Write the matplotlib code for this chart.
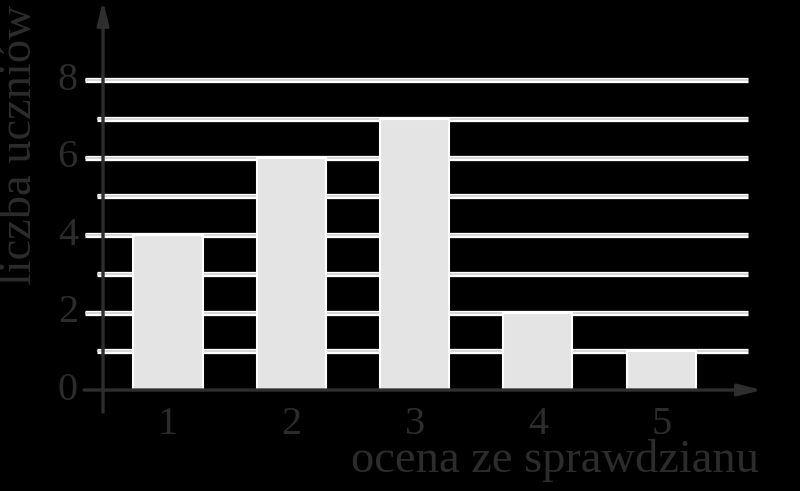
import matplotlib.pyplot as plt

# data
oceny = ["1", "2", "3", "4", "5"]
liczba = [4, 6, 7, 2, 1]
y_ticks = [0, 2, 4, 6, 8]
grid_levels = [1, 2, 3, 4, 5, 6, 7, 8]

plt.rcParams['font.family'] = ['Liberation Serif', 'DejaVu Serif']

fig = plt.figure(figsize=(8, 4.91), dpi=100, facecolor='black')
ax = fig.add_axes([0, 0, 1, 1])
ax.set_facecolor('black')
ax.set_axis_off()

# pixel -> data: category 1 at px 168, step 123.3 px; y=0 at px 390, 38.75 px per unit
ax.set_xlim(-0.3625, 6.1257)
ax.set_ylim(-2.606, 10.065)

txt_col = '#2c2c2c'
axis_col = '#2e2e2e'

x = list(range(1, len(oceny) + 1))

# grid lines (double white line with light gray centre)
for g in grid_levels:
    x0 = 0.327 if g % 2 == 0 else 0.424
    ax.plot([x0, 5.704], [g, g], color='white', lw=3.8, solid_capstyle='butt', zorder=1)
    ax.plot([x0, 5.704], [g, g], color='#cfcfcf', lw=1.2, solid_capstyle='butt', zorder=1.5)

# bars
ax.bar(x, liczba, width=0.56, color='#e4e4e4', edgecolor='white', linewidth=1.5, zorder=2)

# axes with arrows
ax.annotate('', xy=(0.473, 10.04), xytext=(0.473, -0.568),
            arrowprops=dict(arrowstyle='-|>,head_length=1.4,head_width=0.35', color=axis_col, lw=2.4,
                            shrinkA=0, shrinkB=0), zorder=3)
ax.annotate('', xy=(5.817, 0), xytext=(0.319, 0),
            arrowprops=dict(arrowstyle='-|>,head_length=1.4,head_width=0.35', color=axis_col, lw=2.4,
                            shrinkA=0, shrinkB=0), zorder=3)

# tick labels
for xi, lab in zip(x, oceny):
    ax.text(xi, -0.9, lab, ha='center', va='center', fontsize=29, color=txt_col)
for t in y_ticks:
    ax.text(0.27, t, str(t), ha='right', va='center', fontsize=29, color=txt_col)

# axis titles
ax.text(4.139, -2.116, 'ocena ze sprawdzianu', ha='center', va='baseline', fontsize=33.5, color=txt_col)
ax.text(-0.2, 6.32, 'liczba uczniów', ha='center', va='center', rotation=90, fontsize=33.5, color=txt_col)

fig.savefig('out.png', dpi=100, facecolor='black')
